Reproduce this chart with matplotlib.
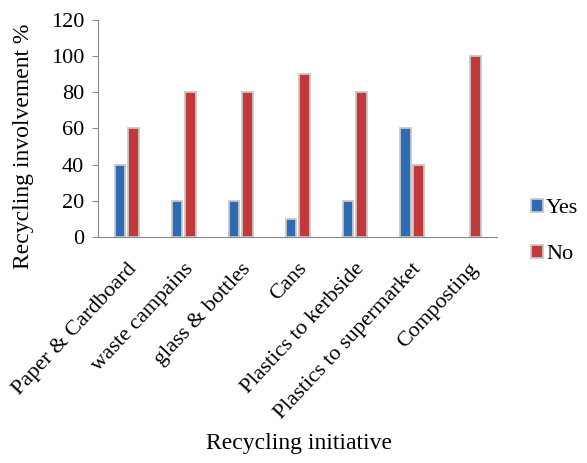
import numpy as np
import matplotlib
matplotlib.use("Agg")
import matplotlib.pyplot as plt

plt.rcParams["font.family"] = ["Liberation Serif", "DejaVu Serif"]

categories = ["Paper & Cardboard", "waste campains", "glass & bottles", "Cans",
              "Plastics to kerbside", "Plastics to supermarket", "Composting"]
yes = [40, 20, 20, 10, 20, 60, 0]
no = [60, 80, 80, 90, 80, 40, 100]

fig = plt.figure(figsize=(5.87, 4.63), dpi=100)
ax = fig.add_axes([0.167, 0.488, 0.68, 0.469])

x = np.arange(len(categories))
w = 0.19
lw_yes = [0 if v == 0 else 1.3 for v in yes]
ax.bar(x - w / 2 - 0.02, yes, w, color="#2D6BB3", edgecolor="#c8c8c8", linewidth=lw_yes, label="Yes")
ax.bar(x + w / 2 + 0.02, no, w, color="#C3393B", edgecolor="#c8c8c8", linewidth=1.3, label="No")

ax.set_xlim(-0.5, len(categories) - 0.5)
ax.set_ylim(0, 120)
ax.set_yticks(range(0, 121, 20))
ax.set_xticks(x)
ax.set_xticklabels(categories, rotation=47, ha="right", rotation_mode="anchor", fontsize=16)
ax.tick_params(axis="x", length=0, pad=16)
ax.tick_params(axis="y", labelsize=16, length=4, color="#888888", pad=6)
for s in ["top", "right"]:
    ax.spines[s].set_visible(False)
for s in ["left", "bottom"]:
    ax.spines[s].set_color("#888888")

ax.set_ylabel("Recycling involvement %", fontsize=17)
ax.yaxis.set_label_coords(-0.16, 0.42)
fig.text(0.51, 0.03, "Recycling initiative", ha="center", fontsize=17)

fig.legend(loc="center left", bbox_to_anchor=(0.87, 0.5), frameon=False, fontsize=16,
           handlelength=0.55, handleheight=0.55, handletextpad=0.15, labelspacing=1.2)

fig.savefig("out.png", dpi=100)
